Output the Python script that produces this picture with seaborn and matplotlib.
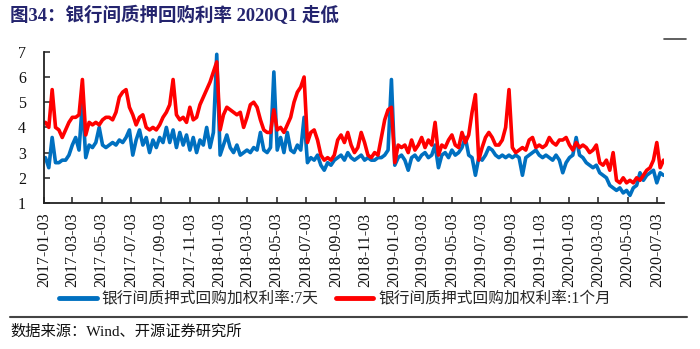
import matplotlib
matplotlib.use("Agg")
import matplotlib.pyplot as plt
from matplotlib.lines import Line2D
import pandas as pd
import seaborn as sns

# Weekly interbank pledged repo weighted rates (%), Friday observations
repo7d_2017 = [
    2.8, 2.4, 3.6, 2.6, 2.6, 2.7, 2.7, 2.9, 3.3, 3.6, 3.1, 5.0, 2.8,
    3.3, 3.2, 3.4, 4.0, 3.3, 3.2, 3.3, 3.4, 3.3, 3.5, 3.4, 3.6, 3.9,
    2.9, 3.5, 3.9, 3.3, 3.6, 3.0, 3.5, 3.2, 3.6, 3.4, 4.0, 3.4, 3.9,
    3.2, 3.8, 3.3, 3.7, 3.1, 3.6, 3.0, 3.5, 3.3, 4.0, 3.2, 3.8, 6.9,
]
repo7d_2018 = [
    2.9, 3.3, 3.7, 3.2, 3.0, 3.3, 2.9, 3.0, 3.1, 3.0, 3.2, 3.1, 3.8,
    3.1, 3.0, 3.2, 6.2, 3.1, 3.6, 3.0, 3.8, 3.1, 3.0, 3.3, 3.1, 4.4,
    2.6, 2.8, 2.7, 2.9, 2.5, 2.3, 2.6, 2.5, 2.7, 2.8, 2.9, 2.7, 3.0,
    2.8, 2.7, 2.8, 2.9, 2.7, 2.8, 2.7, 2.7, 2.8, 2.8, 2.9, 3.1, 5.9,
]
repo7d_2019 = [
    2.5, 2.8, 2.9, 2.7, 2.3, 2.8, 2.9, 2.7, 2.9, 3.0, 2.8, 2.9, 3.3,
    2.4, 2.9, 3.0, 2.8, 3.1, 2.9, 3.0, 3.2, 3.6, 2.9, 2.8, 2.1, 2.8,
    2.7, 2.9, 3.2, 3.1, 2.9, 2.8, 2.9, 2.8, 2.9, 2.8, 2.9, 2.8, 2.1,
    2.8, 2.9, 3.0, 3.1, 2.9, 2.8, 2.9, 2.8, 2.7, 2.9, 2.7, 2.2, 2.6,
]
repo7d_2020 = [
    2.8, 2.9, 3.6, 2.9, 2.8, 2.6, 2.5, 2.4, 2.5, 2.2, 2.1, 2.0, 1.7,
    1.6, 1.5, 1.6, 1.4, 1.5, 1.3, 1.6, 1.7, 2.2, 1.9, 2.1, 2.2, 2.3,
    1.8, 2.2, 2.1,
]

repo1m_2017 = [
    4.2, 4.0, 5.5, 4.0, 3.9, 3.6, 3.9, 4.2, 4.4, 4.4, 4.5, 5.9, 3.7,
    4.2, 4.1, 4.2, 4.1, 4.3, 4.4, 4.4, 4.3, 4.6, 5.2, 5.4, 5.5, 4.8,
    4.5, 4.1, 4.4, 4.5, 4.0, 3.9, 4.0, 3.9, 4.1, 4.4, 4.6, 4.9, 5.9,
    4.5, 4.3, 4.4, 4.2, 4.8, 4.3, 4.4, 4.9, 5.2, 5.5, 5.8, 6.2, 6.6,
]
repo1m_2018 = [
    3.9, 4.5, 4.8, 4.7, 4.6, 4.5, 4.6, 4.0, 4.4, 4.9, 5.0, 4.8, 4.3,
    3.9, 3.8, 3.8, 4.7, 3.9, 4.0, 3.8, 4.1, 4.4, 5.0, 5.4, 5.6, 6.0,
    3.4, 3.8, 3.9, 3.5, 2.9, 2.7, 2.8, 2.7, 2.9, 3.5, 3.7, 3.4, 3.8,
    3.3, 3.0, 3.2, 3.8, 3.4, 2.9, 2.8, 3.0, 2.9, 3.6, 4.3, 4.7, 4.8,
]
repo1m_2019 = [
    2.6, 3.3, 3.2, 3.3, 3.0, 3.5, 3.1, 3.3, 3.6, 3.2, 3.5, 3.3, 4.2,
    2.9, 3.3, 3.2, 3.5, 3.7, 3.3, 3.2, 3.8, 3.4, 3.7, 4.6, 5.3, 2.7,
    3.2, 3.6, 3.8, 3.6, 3.3, 3.3, 3.5, 4.0, 5.5, 3.2, 3.0, 3.1, 3.2,
    3.1, 3.5, 3.6, 3.2, 3.3, 3.2, 3.3, 3.6, 3.4, 3.3, 3.5, 3.5, 3.6,
]
repo1m_2020 = [
    3.3, 3.1, 3.4, 3.2, 3.3, 3.2, 3.0, 3.1, 3.3, 2.6, 2.5, 2.7, 2.3,
    3.0, 1.9, 1.8, 2.0, 1.8, 1.9, 1.8, 2.0, 1.9, 2.1, 2.3, 2.4, 2.7,
    3.4, 2.4, 2.7,
]

series_names = ["银行间质押式回购加权利率:7天", "银行间质押式回购加权利率:1个月"]
series_colors = ["#0070C0", "#FF0000"]
tick_labels = [
    "2017-01-03", "2017-03-03", "2017-05-03", "2017-07-03", "2017-09-03",
    "2017-11-03", "2018-01-03", "2018-03-03", "2018-05-03", "2018-07-03",
    "2018-09-03", "2018-11-03", "2019-01-03", "2019-03-03", "2019-05-03",
    "2019-07-03", "2019-09-03", "2019-11-03", "2020-01-03", "2020-03-03",
    "2020-05-03", "2020-07-03",
]
y_ticks = [1, 2, 3, 4, 5, 6, 7]

title_text = "图34：银行间质押回购利率 2020Q1 走低"
source_text = "数据来源：Wind、开源证券研究所"

# ---- assemble a long-form table ----
rate_7d = repo7d_2017 + repo7d_2018 + repo7d_2019 + repo7d_2020
rate_1m = repo1m_2017 + repo1m_2018 + repo1m_2019 + repo1m_2020
dates = pd.date_range("2017-01-06", periods=len(rate_7d), freq="7D")
df = pd.concat([
    pd.DataFrame({"date": dates, "rate": rate_7d, "series": series_names[0]}),
    pd.DataFrame({"date": dates, "rate": rate_1m, "series": series_names[1]}),
], ignore_index=True)

sns.set_theme(style="ticks")
plt.rcParams["font.family"] = ["Liberation Serif", "Noto Sans CJK SC", "DejaVu Sans"]
plt.rcParams["axes.unicode_minus"] = False

W, H = 700, 349
fig = plt.figure(figsize=(W / 100, H / 100), dpi=100)
ax = fig.add_axes([44 / W, 1 - 203 / H, 620 / W, (203 - 51.8) / H])

sns.lineplot(data=df, x="date", y="rate", hue="series",
             hue_order=series_names, palette=series_colors,
             linewidth=2.6, ax=ax)

ax.set_ylim(1, 7)
ax.set_yticks(y_ticks)
ax.set_xlim(pd.Timestamp("2017-01-03"), pd.Timestamp("2020-07-18"))
tick_pos = pd.to_datetime(tick_labels)
ax.set_xticks(tick_pos)
ax.set_xticklabels(tick_labels, rotation=90, ha="center", va="top")
ax.set_xlabel("")
ax.set_ylabel("")

for side in ("top", "right"):
    ax.spines[side].set_visible(False)
for side in ("left", "bottom"):
    ax.spines[side].set_color("#222222")
    ax.spines[side].set_linewidth(1.3)
ax.tick_params(axis="both", direction="in", length=4, width=1.1,
               color="#222222", labelcolor="#111111", labelsize=11.5)
ax.tick_params(axis="y", pad=13)
ax.tick_params(axis="x", pad=7)
ax.grid(False)

sns.move_legend(ax, "center", bbox_to_anchor=(335 / W, 1 - 299 / H),
                bbox_transform=fig.transFigure, ncol=2, frameon=False,
                title=None, handlelength=2.4, handletextpad=0.3,
                columnspacing=1.1, borderpad=0, fontsize=11.3)
for line in ax.get_legend().get_lines():
    line.set_linewidth(3.5)

fig.text(10 / W, 1 - 15 / H, title_text, color="#24246e", fontsize=13.3,
         fontweight="bold", ha="left", va="center")
fig.text(10 / W, 1 - 332 / H, source_text, color="#111111", fontsize=11,
         ha="left", va="center")
fig.add_artist(Line2D([10 / W, 687 / W], [1 - 317 / H, 1 - 317 / H],
                      color="#444444", linewidth=1.5))
fig.add_artist(Line2D([664 / W, 686 / W], [1 - 39 / H, 1 - 39 / H],
                      color="#444444", linewidth=1.2))

fig.savefig("out.png", dpi=100)
